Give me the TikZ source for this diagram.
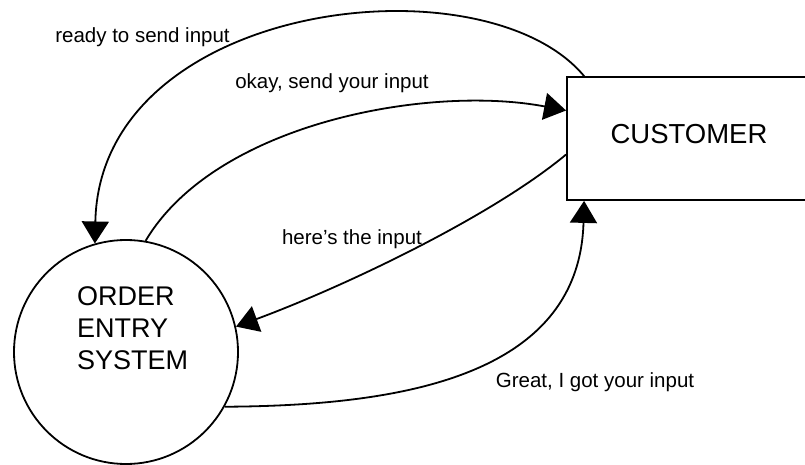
\documentclass[tikz,border=0pt]{standalone}
\usepackage{fontspec}
\setmainfont{Liberation Sans}
\usetikzlibrary{arrows.meta}
\tikzset{
  entitybox/.style={draw, line width=1.8pt,
    minimum width=244pt, minimum height=123pt, inner sep=0pt,
    font=\fontsize{27.5}{33}\selectfont, text depth=10pt},
  procnode/.style={draw, circle, line width=1.8pt,
    minimum size=224pt, inner sep=0pt},
  proctext/.style={align=left, inner sep=0pt,
    font=\fontsize{27}{32}\selectfont},
  flowlabel/.style={inner sep=0pt, font=\fontsize{20.5}{24}\selectfont},
  arr/.style={-{Triangle[length=22pt,width=27pt]}, line width=1.8pt},
}

\begin{document}
\begin{tikzpicture}[x=1pt,y=1pt]
  \useasboundingbox (0,0) rectangle (805,464);
  \node[entitybox] (cust) at (689,325.5) {CUSTOMER};
  \node[procnode] (oes) at (126,112) {};
  \node[proctext, anchor=west] (oestext) at (77,136) {ORDER\\ENTRY\\SYSTEM};

  % data flows between customer and order entry system
  \draw[arr] ([xshift=18pt]cust.north west) .. controls +(-100,120) and +(5,243) .. (oes.106);
  \draw[arr] (oes.80) .. controls +(70,118) and +(-137,26) .. ([yshift=28pt]cust.west);
  \draw[arr] ([yshift=-16pt]cust.west) .. controls +(-77,-64) and +(103,38) .. (oes.13);
  \draw[arr] (oes.-29) .. controls +(165,1) and +(-5,-180) .. ([xshift=18pt]cust.south west);

  \node[flowlabel] (lready) at (142.5,427) {ready to send input};
  \node[flowlabel] (lokay) at (332,380.5) {okay, send your input};
  \node[flowlabel] (lhere) at (352,225) {here's the input};
  \node[flowlabel] (lgreat) at (595,81.5) {Great, I got your input};
\end{tikzpicture}
\end{document}
